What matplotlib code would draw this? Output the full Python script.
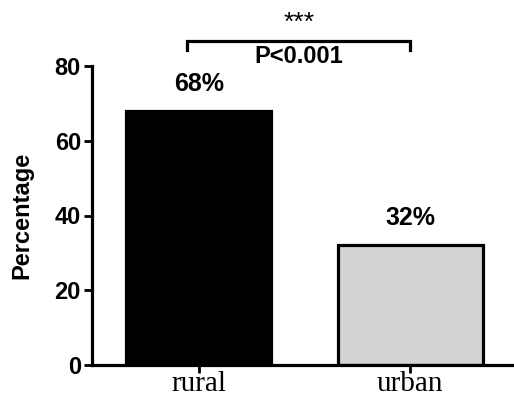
import matplotlib
matplotlib.use("Agg")
import matplotlib.pyplot as plt

categories = ["rural", "urban"]
values = [68, 32]
value_labels = ["68%", "32%"]
bar_colors = ["#000000", "#d3d3d3"]
y_ticks = [0, 20, 40, 60, 80]
sig_stars = "***"
p_text = "P<0.001"

fig = plt.figure(figsize=(5.14, 3.99), dpi=100)
ax = fig.add_axes([92/514, 34/399, (514-92)/514, (365-66)/399])

x = list(range(len(categories)))
ax.bar(x, values, width=0.686, color=bar_colors, edgecolor="black", linewidth=2.3, zorder=2)

ax.set_xlim(-0.504, 1.49)
ax.set_ylim(0, 80)
ax.set_yticks(y_ticks)
ax.set_xticks(x)
ax.set_xticklabels(categories, fontfamily="Liberation Serif", fontsize=21)
for lab in ax.get_yticklabels():
    lab.set_fontfamily("Liberation Sans")
    lab.set_fontweight("bold")
    lab.set_fontsize(17)

ax.tick_params(axis="y", length=6, width=2, pad=2)
ax.tick_params(axis="x", length=6, width=2, pad=-2)
for s in ["top", "right"]:
    ax.spines[s].set_visible(False)
for s in ["left", "bottom"]:
    ax.spines[s].set_linewidth(2.3)

ax.set_ylabel("Percentage", fontfamily="Liberation Sans", fontweight="bold", fontsize=17, labelpad=15)

for xi, v, t in zip(x, values, value_labels):
    ax.text(xi, v + 7.3, t, ha="center", va="center", fontfamily="Liberation Sans",
            fontweight="bold", fontsize=18, clip_on=False)

# significance bracket
x0, x1 = -0.054, 1.0
ytop, ybot = 86.6, 84.2
ax.plot([x0, x0, x1, x1], [ybot, ytop, ytop, ybot], color="black", lw=2.3, clip_on=False,
        solid_joinstyle="miter")
xm = (x0 + x1) / 2
ax.text(xm, 91.6, sig_stars, ha="center", va="center", fontfamily="Liberation Sans",
        fontweight="normal", fontsize=19, clip_on=False)
ax.text(xm, 82.6, p_text, ha="center", va="center", fontfamily="Liberation Sans",
        fontweight="bold", fontsize=17, clip_on=False)

fig.savefig("out.png", dpi=100)
